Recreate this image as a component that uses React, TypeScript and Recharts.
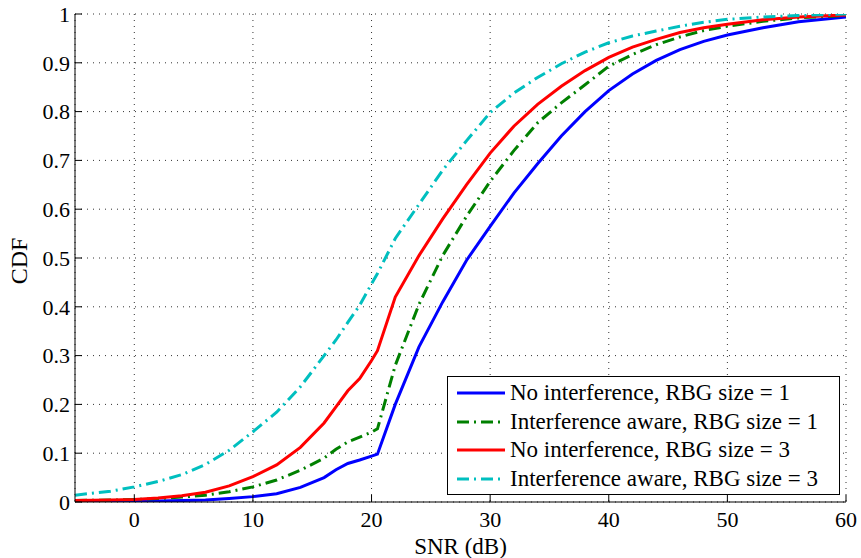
import React from "react";
import {
  LineChart,
  Line,
  XAxis,
  YAxis,
  CartesianGrid,
  Legend,
} from "recharts";

// SNR sample points (dB)
const SNR = [
  -5, -2, 0, 2, 4, 6, 8, 10, 12, 14, 16, 17, 18, 19, 20, 20.5, 22, 24, 26, 28,
  30, 32, 34, 36, 38, 40, 42, 44, 46, 48, 50, 53, 56, 60,
];

// CDF values
const NO_INT_RBG1 = [
  0.001, 0.001, 0.002, 0.002, 0.003, 0.004, 0.007, 0.011, 0.017, 0.03, 0.05,
  0.066, 0.079, 0.086, 0.094, 0.098, 0.2, 0.318, 0.41, 0.495, 0.565, 0.633,
  0.693, 0.75, 0.8, 0.843, 0.877, 0.905, 0.927, 0.944, 0.957, 0.972, 0.984,
  0.994,
];
const AWARE_RBG1 = [
  0.003, 0.004, 0.005, 0.007, 0.01, 0.014, 0.021, 0.031, 0.045, 0.065, 0.09,
  0.108, 0.123, 0.133, 0.143, 0.15, 0.28, 0.405, 0.505, 0.585, 0.657, 0.72,
  0.777, 0.818, 0.855, 0.893, 0.917, 0.937, 0.953, 0.966, 0.975, 0.985, 0.992,
  0.997,
];
const NO_INT_RBG3 = [
  0.003, 0.004, 0.005, 0.008, 0.013, 0.02, 0.033, 0.052, 0.076, 0.112, 0.162,
  0.195, 0.228, 0.253, 0.29, 0.31, 0.42, 0.505, 0.58, 0.65, 0.715, 0.77, 0.815,
  0.852, 0.884, 0.911, 0.932, 0.948, 0.962, 0.972, 0.979, 0.988, 0.994, 0.998,
];
const AWARE_RBG3 = [
  0.014, 0.022, 0.031, 0.042, 0.056, 0.077, 0.106, 0.144, 0.184, 0.236, 0.3,
  0.332, 0.368, 0.403, 0.447, 0.468, 0.54, 0.61, 0.68, 0.74, 0.798, 0.838, 0.87,
  0.898, 0.922, 0.941, 0.955, 0.965, 0.975, 0.983, 0.989, 0.994, 0.997, 1.0,
];

const X_TICKS = [0, 10, 20, 30, 40, 50, 60];
const Y_TICKS = [0, 0.1, 0.2, 0.3, 0.4, 0.5, 0.6, 0.7, 0.8, 0.9, 1];

const SERIES = [
  { key: "b", name: "No interference, RBG size = 1", color: "#0000ff", dash: undefined },
  { key: "g", name: "Interference aware, RBG size = 1", color: "#008000", dash: "12 5 2 5" },
  { key: "r", name: "No interference, RBG size = 3", color: "#ff0000", dash: undefined },
  { key: "c", name: "Interference aware, RBG size = 3", color: "#00bfbf", dash: "12 5 2 5" },
];

const data = SNR.map((snr, i) => ({
  snr,
  b: NO_INT_RBG1[i],
  g: AWARE_RBG1[i],
  r: NO_INT_RBG3[i],
  c: AWARE_RBG3[i],
}));

const FONT = '"Liberation Serif", "Times New Roman", serif';
const tickStyle = { fill: "#000", fontSize: 22, fontFamily: FONT };

const LegendBox = () => (
  <div
    style={{
      boxSizing: "border-box",
      width: 393,
      height: 119,
      border: "1px solid #000",
      background: "#fff",
      padding: "2px 0 0 9px",
      fontFamily: FONT,
      fontSize: 23,
      color: "#000",
      lineHeight: "28.5px",
      whiteSpace: "nowrap",
    }}
  >
    {SERIES.map((s) => (
      <div key={s.key} style={{ display: "flex", alignItems: "center" }}>
        <svg width={48} height={10} style={{ marginRight: 5 }}>
          <line
            x1={0}
            y1={5}
            x2={48}
            y2={5}
            stroke={s.color}
            strokeWidth={3}
            strokeDasharray={s.dash}
          />
        </svg>
        <span>{s.name}</span>
      </div>
    ))}
  </div>
);

export default function App() {
  return (
    <div
      style={{
        position: "absolute",
        left: 0,
        top: 0,
        width: 861,
        height: 558,
        background: "#fff",
      }}
    >
      <LineChart
        width={861}
        height={558}
        data={data}
        margin={{ top: 14, right: 15, left: 0, bottom: 0 }}
      >
        <CartesianGrid stroke="#333" strokeDasharray="1 5" />
        <XAxis
          dataKey="snr"
          type="number"
          domain={[-5, 60]}
          ticks={X_TICKS}
          height={56}
          stroke="#000"
          tickSize={-7}
          tickMargin={16}
          tick={tickStyle}
          allowDataOverflow
          label={{
            value: "SNR (dB)",
            position: "insideBottom",
            offset: 4,
            style: { fill: "#000", fontSize: 23, fontFamily: FONT },
          }}
        />
        <XAxis
          xAxisId="top"
          orientation="top"
          type="number"
          domain={[-5, 60]}
          ticks={X_TICKS}
          height={0}
          stroke="#000"
          tickSize={-7}
          tick={false}
          allowDataOverflow
        />
        <YAxis
          type="number"
          domain={[0, 1]}
          ticks={Y_TICKS}
          width={75}
          stroke="#000"
          tickSize={-7}
          tickMargin={12}
          tick={tickStyle}
          tickFormatter={(v: number) => String(v)}
          allowDataOverflow
          label={{
            content: ({ viewBox }: any) => {
              const cy = viewBox.y + viewBox.height / 2 + 3;
              return (
                <text
                  x={19}
                  y={cy}
                  transform={`rotate(-90 19 ${cy})`}
                  textAnchor="middle"
                  dominantBaseline="central"
                  fill="#000"
                  fontSize={24}
                  fontFamily={FONT}
                >
                  CDF
                </text>
              );
            },
          }}
        />
        <YAxis
          yAxisId="right"
          orientation="right"
          type="number"
          domain={[0, 1]}
          ticks={Y_TICKS}
          width={0}
          stroke="#000"
          tickSize={-7}
          tick={false}
          allowDataOverflow
        />
        {SERIES.map((s) => (
          <Line
            key={s.key}
            type="linear"
            dataKey={s.key}
            name={s.name}
            stroke={s.color}
            strokeWidth={3}
            strokeDasharray={s.dash}
            dot={false}
            isAnimationActive={false}
          />
        ))}
        <Legend
          layout="vertical"
          align="center"
          verticalAlign="middle"
          content={() => <LegendBox />}
          wrapperStyle={{ left: 447, top: 376, width: 393 }}
        />
      </LineChart>
    </div>
  );
}
